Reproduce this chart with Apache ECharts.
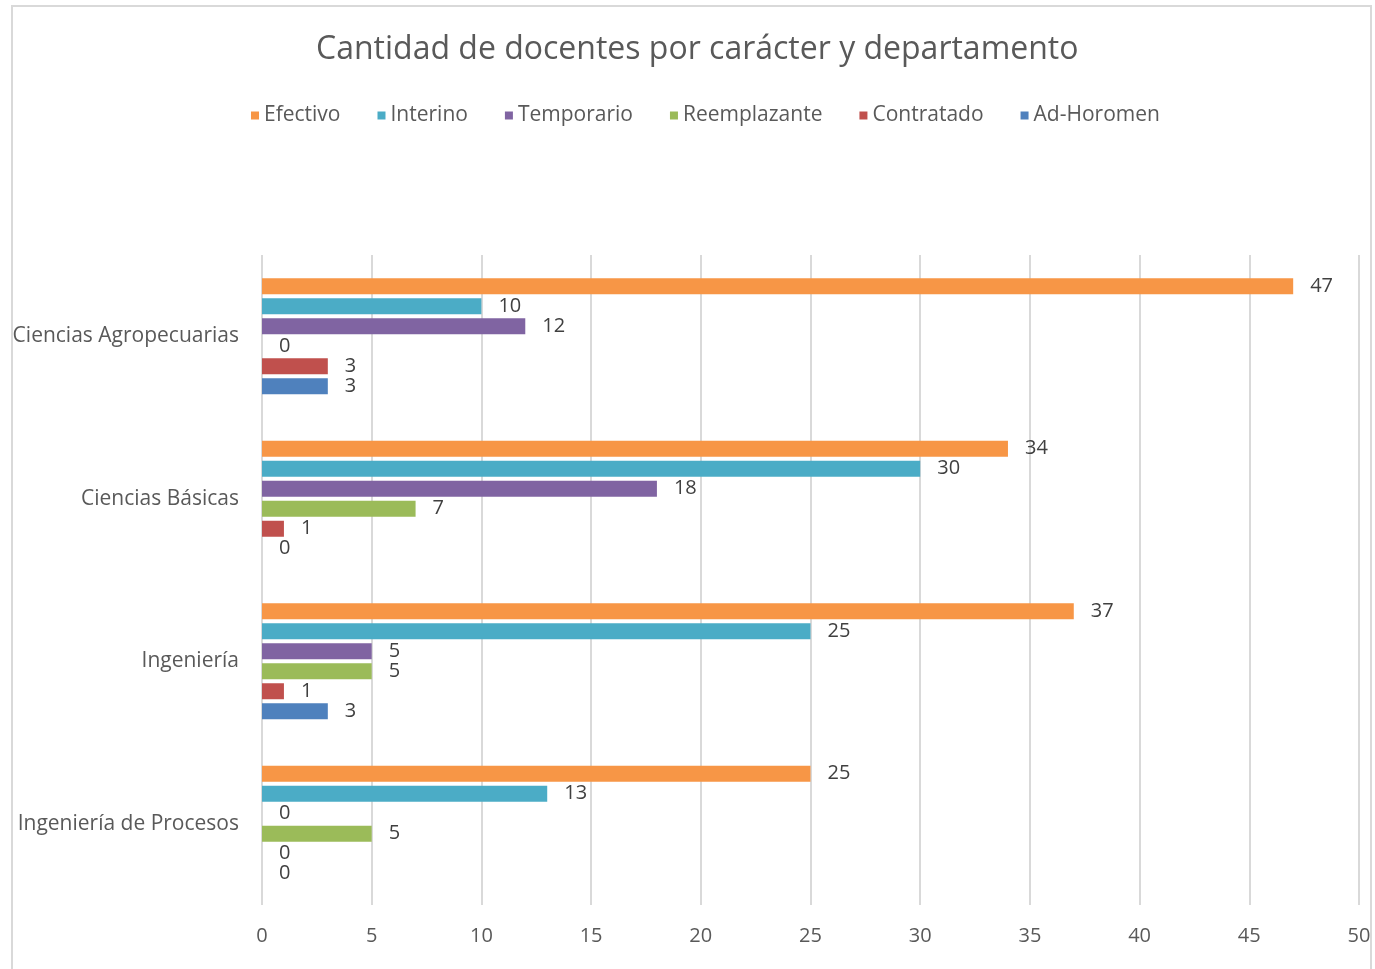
<!DOCTYPE html>
<html lang="es">
<head>
  <meta charset="UTF-8">
  <title>Cantidad de docentes por carácter y departamento</title>
  <script src="https://cdn.jsdelivr.net/npm/echarts@6.0.0/dist/echarts.min.js"></script>
  <style>
    html, body { margin: 0; padding: 0; width: 100%; height: 100%; background: #fff; }
    #frame {
      position: absolute; left: 11px; top: 5px; width: 1361px; height: 980px;
      border: 2px solid #d9d9d9; box-sizing: border-box;
    }
    #main { position: absolute; left: 0; top: 0; width: 1375px; height: 969px; }
  </style>
</head>
<body>
  <div id="frame"></div>
  <div id="main"></div>
  <script>
    const departamentos = ['Ciencias Agropecuarias', 'Ciencias Básicas', 'Ingeniería', 'Ingeniería de Procesos'];
    const caracteres = ['Efectivo', 'Interino', 'Temporario', 'Reemplazante', 'Contratado', 'Ad-Horomen'];
    const efectivo = [47, 34, 37, 25];
    const interino = [10, 30, 25, 13];
    const temporario = [12, 18, 5, 0];
    const reemplazante = [0, 7, 5, 5];
    const contratado = [3, 1, 1, 0];
    const adHoromen = [3, 0, 3, 0];
    const colores = ['#F79646', '#4BACC6', '#8064A2', '#9BBB59', '#C0504D', '#4F81BD'];

    const valores = [efectivo, interino, temporario, reemplazante, contratado, adHoromen];
    const font = '"Open Sans", "Noto Sans", sans-serif';

    const chart = echarts.init(document.getElementById('main'));
    chart.setOption({
      animation: false,
      color: colores,
      textStyle: { fontFamily: font },
      title: {
        text: 'Cantidad de docentes por carácter y departamento',
        left: 311,
        top: 29,
        textStyle: { fontFamily: font, fontSize: 32, fontWeight: 'normal', color: '#595959' }
      },
      legend: {
        data: caracteres,
        top: 100,
        left: 246,
        icon: 'rect',
        itemWidth: 8,
        itemHeight: 8,
        itemGap: 37,
        textStyle: { fontFamily: font, fontSize: 21, color: '#595959' }
      },
      grid: { left: 262, right: 16, top: 255, bottom: 64 },
      xAxis: {
        type: 'value',
        min: 0,
        max: 50,
        interval: 5,
        axisLine: { show: false },
        axisTick: { show: false },
        axisLabel: { fontFamily: font, fontSize: 20, color: '#595959', margin: 21 },
        splitLine: { show: true, lineStyle: { color: '#d9d9d9', width: 2 } }
      },
      yAxis: {
        type: 'category',
        data: departamentos,
        inverse: true,
        axisLine: { show: false },
        axisTick: { show: false },
        axisLabel: { fontFamily: font, fontSize: 21, color: '#595959', margin: 23 }
      },
      series: caracteres.map((nombre, i) => ({
        name: nombre,
        type: 'bar',
        data: valores[i],
        barWidth: 16,
        barGap: '25%',
        label: {
          show: true,
          position: 'right',
          distance: 17,
          fontFamily: font,
          fontSize: 20,
          color: '#404040'
        }
      }))
    });
  </script>
</body>
</html>
